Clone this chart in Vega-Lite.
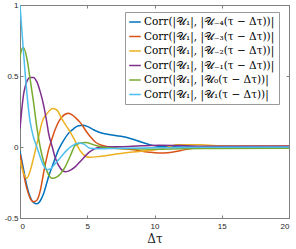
{
  "$schema": "https://vega.github.io/schema/vega-lite/v6.json",
  "autosize": "none",
  "width": 269,
  "height": 213,
  "padding": {"left": 20, "top": 5, "right": 7, "bottom": 31},
  "background": "white",
  "data": {"values": [
    {"s":"₋₄","x":0,"y":-0.03},{"s":"₋₄","x":0.25,"y":-0.15},{"s":"₋₄","x":0.5,"y":-0.27},{"s":"₋₄","x":0.75,"y":-0.35},{"s":"₋₄","x":1,"y":-0.39},{"s":"₋₄","x":1.25,"y":-0.40},{"s":"₋₄","x":1.5,"y":-0.38},{"s":"₋₄","x":1.75,"y":-0.33},{"s":"₋₄","x":2,"y":-0.25},{"s":"₋₄","x":2.12,"y":-0.21},{"s":"₋₄","x":2.5,"y":-0.11},{"s":"₋₄","x":2.86,"y":-0.02},{"s":"₋₄","x":3.2,"y":0.04},{"s":"₋₄","x":3.6,"y":0.096},{"s":"₋₄","x":4,"y":0.13},{"s":"₋₄","x":4.35,"y":0.15},{"s":"₋₄","x":4.7,"y":0.153},{"s":"₋₄","x":5,"y":0.145},{"s":"₋₄","x":5.5,"y":0.12},{"s":"₋₄","x":6,"y":0.10},{"s":"₋₄","x":6.7,"y":0.087},{"s":"₋₄","x":7.5,"y":0.075},{"s":"₋₄","x":8.2,"y":0.06},{"s":"₋₄","x":9,"y":0.035},{"s":"₋₄","x":9.7,"y":0.015},{"s":"₋₄","x":10.5,"y":0.003},{"s":"₋₄","x":12,"y":0},{"s":"₋₄","x":14,"y":0},{"s":"₋₄","x":20,"y":0},
    {"s":"₋₃","x":0,"y":-0.05},{"s":"₋₃","x":0.25,"y":-0.18},{"s":"₋₃","x":0.5,"y":-0.29},{"s":"₋₃","x":0.75,"y":-0.36},{"s":"₋₃","x":1,"y":-0.385},{"s":"₋₃","x":1.25,"y":-0.375},{"s":"₋₃","x":1.5,"y":-0.31},{"s":"₋₃","x":1.75,"y":-0.185},{"s":"₋₃","x":2,"y":-0.07},{"s":"₋₃","x":2.12,"y":-0.02},{"s":"₋₃","x":2.35,"y":0.05},{"s":"₋₃","x":2.6,"y":0.12},{"s":"₋₃","x":3.1,"y":0.21},{"s":"₋₃","x":3.6,"y":0.237},{"s":"₋₃","x":3.9,"y":0.225},{"s":"₋₃","x":4.2,"y":0.20},{"s":"₋₃","x":4.5,"y":0.17},{"s":"₋₃","x":5,"y":0.10},{"s":"₋₃","x":5.25,"y":0.07},{"s":"₋₃","x":5.6,"y":0.035},{"s":"₋₃","x":6,"y":0.014},{"s":"₋₃","x":6.7,"y":0},{"s":"₋₃","x":7.5,"y":-0.01},{"s":"₋₃","x":8.5,"y":-0.02},{"s":"₋₃","x":9.5,"y":-0.035},{"s":"₋₃","x":10.3,"y":-0.043},{"s":"₋₃","x":11,"y":-0.04},{"s":"₋₃","x":11.9,"y":-0.026},{"s":"₋₃","x":13,"y":-0.005},{"s":"₋₃","x":14,"y":0.005},{"s":"₋₃","x":16,"y":0.007},{"s":"₋₃","x":20,"y":0.007},
    {"s":"₋₂","x":0,"y":-0.09},{"s":"₋₂","x":0.25,"y":-0.18},{"s":"₋₂","x":0.5,"y":-0.22},{"s":"₋₂","x":0.75,"y":-0.17},{"s":"₋₂","x":1,"y":-0.08},{"s":"₋₂","x":1.25,"y":0.02},{"s":"₋₂","x":1.5,"y":0.12},{"s":"₋₂","x":1.62,"y":0.17},{"s":"₋₂","x":2,"y":0.235},{"s":"₋₂","x":2.45,"y":0.272},{"s":"₋₂","x":2.75,"y":0.26},{"s":"₋₂","x":3.1,"y":0.20},{"s":"₋₂","x":3.5,"y":0.14},{"s":"₋₂","x":3.7,"y":0.11},{"s":"₋₂","x":4,"y":0.06},{"s":"₋₂","x":4.5,"y":-0.03},{"s":"₋₂","x":4.87,"y":-0.065},{"s":"₋₂","x":5.2,"y":-0.073},{"s":"₋₂","x":6,"y":-0.065},{"s":"₋₂","x":6.7,"y":-0.056},{"s":"₋₂","x":7.5,"y":-0.045},{"s":"₋₂","x":8.2,"y":-0.037},{"s":"₋₂","x":9,"y":-0.03},{"s":"₋₂","x":10.4,"y":-0.015},{"s":"₋₂","x":11,"y":0},{"s":"₋₂","x":11.7,"y":0.015},{"s":"₋₂","x":13.4,"y":0.015},{"s":"₋₂","x":15,"y":0.008},{"s":"₋₂","x":17,"y":0.005},{"s":"₋₂","x":20,"y":0.004},
    {"s":"₋₁","x":0,"y":0.13},{"s":"₋₁","x":0.25,"y":0.36},{"s":"₋₁","x":0.5,"y":0.46},{"s":"₋₁","x":0.75,"y":0.49},{"s":"₋₁","x":1,"y":0.49},{"s":"₋₁","x":1.25,"y":0.46},{"s":"₋₁","x":1.5,"y":0.39},{"s":"₋₁","x":1.67,"y":0.33},{"s":"₋₁","x":2,"y":0.17},{"s":"₋₁","x":2.12,"y":0.10},{"s":"₋₁","x":2.4,"y":0},{"s":"₋₁","x":2.6,"y":-0.07},{"s":"₋₁","x":3,"y":-0.15},{"s":"₋₁","x":3.36,"y":-0.175},{"s":"₋₁","x":3.6,"y":-0.17},{"s":"₋₁","x":4.1,"y":-0.14},{"s":"₋₁","x":4.5,"y":-0.10},{"s":"₋₁","x":5.2,"y":-0.033},{"s":"₋₁","x":5.75,"y":-0.005},{"s":"₋₁","x":6.5,"y":0},{"s":"₋₁","x":7.5,"y":0.002},{"s":"₋₁","x":9,"y":0.008},{"s":"₋₁","x":10.4,"y":0.012},{"s":"₋₁","x":12,"y":0.01},{"s":"₋₁","x":14,"y":0.005},{"s":"₋₁","x":20,"y":0.005},
    {"s":"₀","x":0,"y":0.63},{"s":"₀","x":0.1,"y":0.68},{"s":"₀","x":0.25,"y":0.70},{"s":"₀","x":0.5,"y":0.63},{"s":"₀","x":0.75,"y":0.48},{"s":"₀","x":1,"y":0.32},{"s":"₀","x":1.25,"y":0.14},{"s":"₀","x":1.5,"y":0},{"s":"₀","x":1.75,"y":-0.10},{"s":"₀","x":2,"y":-0.17},{"s":"₀","x":2.37,"y":-0.22},{"s":"₀","x":2.75,"y":-0.21},{"s":"₀","x":3,"y":-0.19},{"s":"₀","x":3.36,"y":-0.14},{"s":"₀","x":3.75,"y":-0.06},{"s":"₀","x":4.1,"y":0.01},{"s":"₀","x":4.5,"y":0.028},{"s":"₀","x":4.87,"y":0.032},{"s":"₀","x":5.5,"y":0.015},{"s":"₀","x":6,"y":0.002},{"s":"₀","x":7,"y":-0.008},{"s":"₀","x":8,"y":-0.012},{"s":"₀","x":10,"y":-0.015},{"s":"₀","x":12,"y":-0.012},{"s":"₀","x":14,"y":-0.01},{"s":"₀","x":20,"y":-0.009},
    {"s":"₁","x":0,"y":1.0},{"s":"₁","x":0.25,"y":0.68},{"s":"₁","x":0.5,"y":0.39},{"s":"₁","x":0.75,"y":0.18},{"s":"₁","x":1,"y":0.07},{"s":"₁","x":1.25,"y":0},{"s":"₁","x":1.5,"y":-0.07},{"s":"₁","x":1.75,"y":-0.13},{"s":"₁","x":2,"y":-0.16},{"s":"₁","x":2.25,"y":-0.155},{"s":"₁","x":2.5,"y":-0.13},{"s":"₁","x":3,"y":-0.075},{"s":"₁","x":3.5,"y":-0.02},{"s":"₁","x":4,"y":0.015},{"s":"₁","x":4.35,"y":0.028},{"s":"₁","x":4.75,"y":0.02},{"s":"₁","x":5.2,"y":-0.008},{"s":"₁","x":6,"y":-0.012},{"s":"₁","x":7,"y":-0.01},{"s":"₁","x":8,"y":-0.008},{"s":"₁","x":10,"y":-0.006},{"s":"₁","x":12,"y":-0.004},{"s":"₁","x":14,"y":-0.002},{"s":"₁","x":20,"y":0}
  ]},
  "layer": [
    {
      "mark": {"type": "line", "strokeWidth": 1.5, "interpolate": "monotone", "clip": true},
      "encoding": {
        "x": {"field": "x", "type": "quantitative",
              "scale": {"domain": [0, 20], "nice": false},
              "axis": {"orient": "bottom", "values": [0, 5, 10, 15, 20], "title": "Δτ", "grid": false, "format": "~g"}},
        "y": {"field": "y", "type": "quantitative",
              "scale": {"domain": [-0.5, 1], "nice": false, "zero": false},
              "axis": {"orient": "left", "values": [-0.5, 0, 0.5, 1], "title": null, "grid": false, "format": "~g",
                       "labelExpr": "replace(datum.label, '−', '-')"}},
        "color": {"field": "s", "type": "nominal",
                  "scale": {"domain": ["₋₄", "₋₃", "₋₂", "₋₁", "₀", "₁"],
                            "range": ["#0072BD", "#D95319", "#EDB120", "#7E2F8E", "#77AC30", "#4DBEEE"]},
                  "legend": {"title": null, "orient": "none", "legendX": 105, "legendY": 7,
                             "labelExpr": "'Corr(|𝒰₁|, |𝒰' + datum.label + '(τ − Δτ))|'"}},
        "order": {"field": "x", "type": "quantitative"}
      }
    },
    {
      "mark": {"type": "point", "opacity": 0},
      "encoding": {
        "x": {"field": "x", "type": "quantitative",
              "axis": {"orient": "top", "values": [0, 5, 10, 15, 20], "labels": false, "title": null, "grid": false}},
        "y": {"field": "y", "type": "quantitative",
              "axis": {"orient": "right", "values": [-0.5, 0, 0.5, 1], "labels": false, "title": null, "grid": false}}
      }
    }
  ],
  "resolve": {"axis": {"x": "independent", "y": "independent"}},
  "config": {
    "view": {"stroke": "#808080", "strokeWidth": 1},
    "axis": {
      "domainColor": "#808080", "domainWidth": 1,
      "tickColor": "#808080", "tickSize": -3, "tickWidth": 1,
      "labelFont": "Liberation Sans", "labelFontSize": 8, "labelColor": "#262626",
      "labelPadding": 5,
      "titleFont": "DejaVu Serif", "titleFontSize": 12, "titleFontWeight": "normal", "titleColor": "#262626",
      "titlePadding": 3
    },
    "axisBottom": {"labelPadding": 7},
    "legend": {
      "strokeColor": "#999999", "fillColor": "white", "padding": 4,
      "symbolType": "M-1.1,0H1.1", "symbolSize": 110, "symbolStrokeWidth": 1.5,
      "labelFont": "DejaVu Serif", "labelFontSize": 10.5, "labelColor": "#000000",
      "rowPadding": 2.5, "labelOffset": 3
    }
  }
}
